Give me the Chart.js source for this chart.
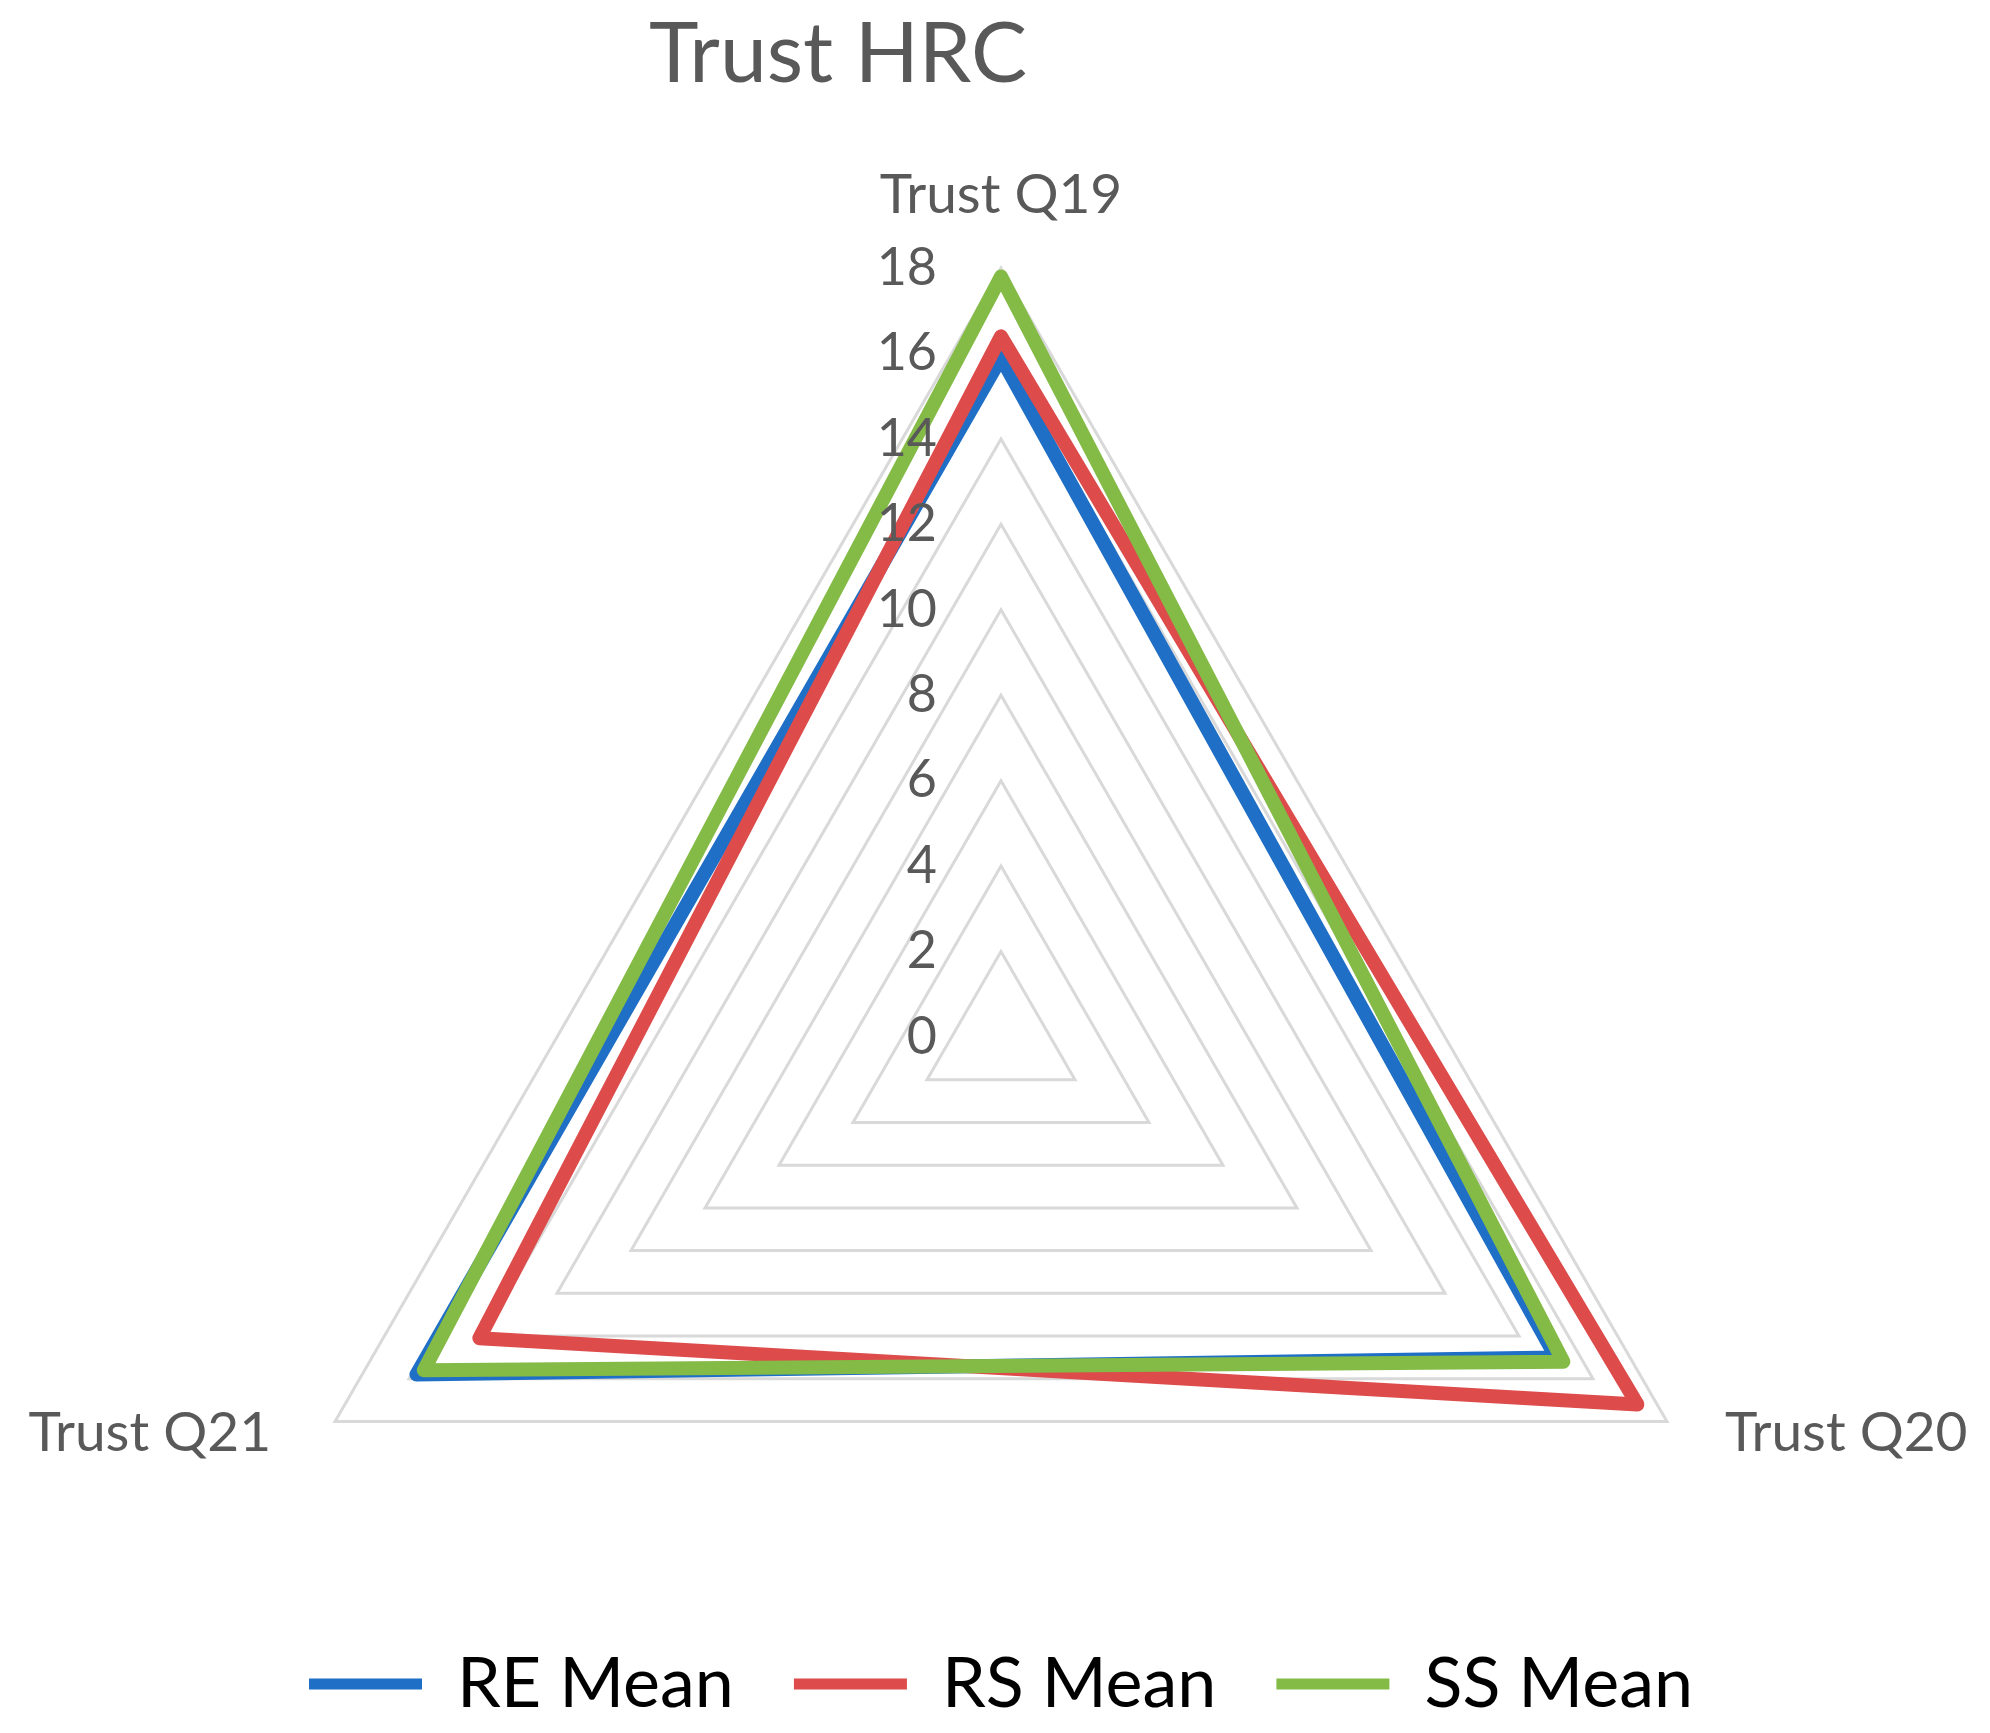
<!DOCTYPE html>
<html>
<head>
<meta charset="utf-8">
<script src="https://cdn.jsdelivr.net/npm/chart.js@4.4.1/dist/chart.umd.min.js"></script>
<style>
  html, body { margin: 0; padding: 0; background: #fff; }
  #wrap { width: 1990px; height: 1733px; }
</style>
</head>
<body>
<div id="wrap"><canvas id="chart"></canvas></div>
<script>
// Trust HRC radar: three group means over the three trust questions
const questions = ["Trust Q19", "Trust Q20", "Trust Q21"];
const reMean = [15.9, 15.0, 15.8];
const rsMean = [16.4, 17.2, 14.1];
const ssMean = [17.8, 15.2, 15.6];
const tickValues = [0, 2, 4, 6, 8, 10, 12, 14, 16, 18];

const FONT = "Lato, 'Open Sans', sans-serif";
const GREY = "#595959";

// Excel-ish text: title, axis ticks left of the vertical axis, category labels
const radarText = {
  id: "radarText",
  afterDatasetsDraw(chart) {
    const ctx = chart.ctx;
    const s = chart.scales.r;
    ctx.save();
    ctx.fillStyle = GREY;

    ctx.font = "84px " + FONT;
    ctx.textAlign = "center";
    ctx.textBaseline = "alphabetic";
    ctx.fillText("Trust HRC", s.xCenter - 163, 82);

    ctx.font = "52px " + FONT;
    ctx.textAlign = "right";
    ctx.textBaseline = "middle";
    tickValues.forEach(v => {
      ctx.fillText(String(v), s.xCenter - 64, s.yCenter - s.getDistanceFromCenterForValue(v));
    });

    ctx.font = "55px " + FONT;
    const top = s.getPointPositionForValue(0, s.max);
    ctx.textAlign = "center"; ctx.textBaseline = "alphabetic";
    ctx.fillText(questions[0], top.x, top.y - 55);
    const right = s.getPointPositionForValue(1, s.max);
    ctx.textAlign = "left"; ctx.textBaseline = "middle";
    ctx.fillText(questions[1], right.x + 58, right.y + 12);
    const left = s.getPointPositionForValue(2, s.max);
    ctx.textAlign = "right";
    ctx.fillText(questions[2], left.x - 64, left.y + 12);
    ctx.restore();
  }
};

const series = [
  { label: "RE Mean", data: reMean, color: "#1f6fc6", order: 3 },
  { label: "RS Mean", data: rsMean, color: "#dd4b4b", order: 2 },
  { label: "SS Mean", data: ssMean, color: "#84bb47", order: 1 }
];

new Chart(document.getElementById("chart"), {
  type: "radar",
  data: {
    labels: questions,
    datasets: series.map(d => ({
      label: d.label, data: d.data, order: d.order,
      borderColor: d.color, backgroundColor: d.color, fill: false,
      borderWidth: 14, borderJoinStyle: "round", tension: 0,
      pointRadius: 0, pointHoverRadius: 0, clip: false
    }))
  },
  options: {
    responsive: true, maintainAspectRatio: false, animation: false,
    layout: { padding: { left: 232, right: 220, top: 268, bottom: 4 } },
    plugins: {
      title: { display: false },
      tooltip: { enabled: false },
      legend: {
        position: "bottom",
        labels: {
          font: { family: FONT, size: 70 }, color: "#000",
          boxWidth: 113, boxHeight: 11, padding: 60,
          sort: (a, b) => a.datasetIndex - b.datasetIndex,
          generateLabels: (chart) => Chart.defaults.plugins.legend.labels.generateLabels(chart)
            .map(it => Object.assign(it, { fillStyle: it.strokeStyle, lineWidth: 0 }))
        }
      }
    },
    scales: {
      r: {
        min: 0, max: 18,
        ticks: { display: false, stepSize: 2 },
        pointLabels: { display: false },
        angleLines: { display: false },
        grid: { color: "#d9d9d9", lineWidth: 3 },
        // radius taken from the plot width, circle hung from the top of the plot area
        afterFit: (scale) => {
          scale.drawingArea = Math.floor((scale.right - scale.left) / 2);
          scale.xCenter = scale.left + scale.drawingArea;
          scale.yCenter = scale.top + scale.drawingArea;
        }
      }
    }
  },
  plugins: [radarText]
});
</script>
</body>
</html>
